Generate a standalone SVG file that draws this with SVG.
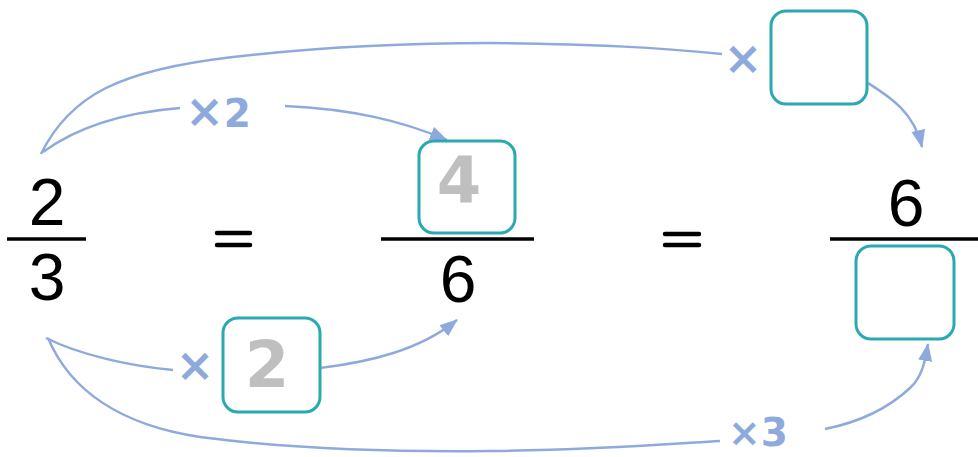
<svg xmlns="http://www.w3.org/2000/svg" width="978" height="457" viewBox="0 0 978 457">
<style>
.num{font-family:"Liberation Sans",Arial,sans-serif;font-size:66px;fill:#000;text-anchor:middle}
.grey{font-family:"DejaVu Sans",Arial,sans-serif;font-weight:bold;font-size:64px;fill:#bfbfbf;text-anchor:middle}
.lbl{font-family:"DejaVu Sans",Arial,sans-serif;font-weight:bold;font-size:39px;fill:#8eaadc;text-anchor:middle}
.x{font-size:46px}
.bar{stroke:#000;stroke-width:3.5}
.eq{stroke:#000;stroke-width:4.5;stroke-linecap:round}
.box{fill:#fff;stroke:#2aa9b1;stroke-width:3}
.c{fill:none;stroke:#8eaadc;stroke-width:2.5}
</style>
<defs>
<marker id="a2" viewBox="0 0 18 14" refX="17" refY="7" markerWidth="18" markerHeight="14" orient="auto" markerUnits="userSpaceOnUse">
<path d="M0,0 L18,7 L0,14 Z" fill="#8eaadc"/>
</marker>
</defs>
<g id="connectors">
<path class="c" d="M41,154 C70,95 120,70 233,57 C320,47 400,43 490,43 C600,44 660,48 722,54"/>
<path class="c" d="M43,152 C80,125 130,112 180,108"/>
<path class="c" d="M285,106 C350,109 400,120 447,140" marker-end="url(#a2)"/>
<path class="c" d="M868,83 C890,97 914,112 922,147" marker-end="url(#a2)"/>
<path class="c" d="M46,338 C80,355 130,366 173,370"/>
<path class="c" d="M320,368 C370,362 420,350 457,320" marker-end="url(#a2)"/>
<path class="c" d="M48,338 C70,390 120,425 200,437 C300,450 400,452 490,451 C600,450 670,444 720,441"/>
<path class="c" d="M825,429 C870,420 895,402 910,388 C922,377 925,362 928,344" marker-end="url(#a2)"/>
</g>
<g id="frac1">
<text class="num" x="47" y="225">2</text>
<line class="bar" x1="7" y1="239" x2="86" y2="239"/>
<text class="num" x="47" y="300">3</text>
</g>
<g id="eq1">
<line class="eq" x1="217" y1="233" x2="250" y2="233"/>
<line class="eq" x1="217" y1="245" x2="250" y2="245"/>
</g>
<g id="frac2">
<rect id="box4" class="box" x="419" y="141" width="96" height="92" rx="15"/>
<text class="grey" x="459" y="203">4</text>
<line class="bar" x1="381" y1="239" x2="534" y2="239"/>
<text class="num" x="458" y="302">6</text>
</g>
<g id="eq2">
<line class="eq" x1="665" y1="234" x2="699" y2="234"/>
<line class="eq" x1="665" y1="245" x2="699" y2="245"/>
</g>
<g id="frac3">
<text class="num" x="906" y="226">6</text>
<line class="bar" x1="830" y1="239" x2="978" y2="239"/>
<rect id="boxDen" class="box" x="856" y="246" width="98" height="93" rx="15"/>
</g>
<g id="label-x2-top">
<text class="lbl" x="218" y="127"><tspan class="x">×</tspan>2</text>
</g>
<g id="label-xbox-top">
<text class="lbl x" x="743" y="74">×</text>
<rect id="boxTop" class="box" x="771" y="11" width="96" height="93" rx="15"/>
</g>
<g id="label-xbox-bottom">
<text class="lbl x" x="195" y="381">×</text>
<rect id="box2" class="box" x="223" y="318" width="97" height="94" rx="15"/>
<text class="grey" x="267" y="387">2</text>
</g>
<g id="label-x3">
<text class="lbl" x="758" y="446">×3</text>
</g>
</svg>
